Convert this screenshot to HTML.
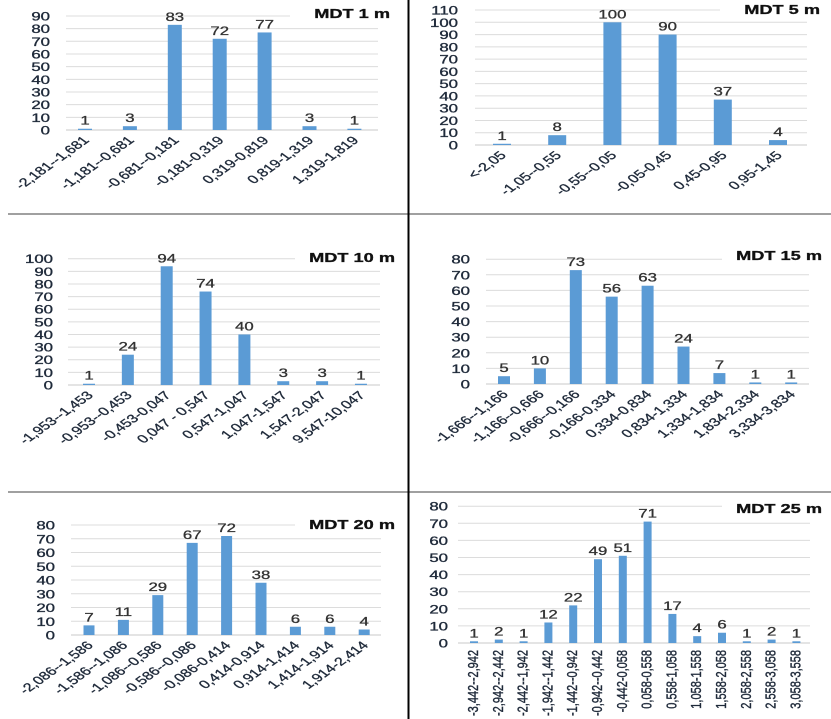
<!DOCTYPE html>
<html><head><meta charset="utf-8"><style>
html,body{margin:0;padding:0;background:#fff;}
svg{display:block;font-family:"Liberation Sans",Arial,sans-serif;}
</style></head><body>
<svg id="s" width="831" height="719" viewBox="0 0 831 719" xmlns="http://www.w3.org/2000/svg">
<line x1="8" y1="214" x2="831" y2="214" stroke="#808080" stroke-width="1.5"/>
<line x1="8" y1="492" x2="831" y2="492" stroke="#808080" stroke-width="1.5"/>
<line x1="408.5" y1="0" x2="408.5" y2="719" stroke="#000" stroke-width="2"/>
</svg>
<script>
var NS="http://www.w3.org/2000/svg",S=document.getElementById('s');
function el(t,a,txt){var e=document.createElementNS(NS,t);for(var k in a)e.setAttribute(k,a[k]);if(txt!==undefined)e.textContent=txt;S.appendChild(e);return e;}
var P=[
{t:"MDT 1 m",tx:390,ty:18,g0:66,g1:378,y0:130,max:90,step:12.67,lx:50,c0:85,sp:44.9,w:14,
 v:[1,3,83,72,77,3,1],l:["-2,181--1,681","-1,181--0,681","-0,681--0,181","-0,181-0,319","0,319-0,819","0,819-1,319","1,319-1,819"]},
{t:"MDT 5 m",tx:820,ty:14,g0:475,g1:807,y0:145,max:110,step:12.27,lx:458,c0:502,sp:55.2,w:18,
 v:[1,8,100,90,37,4],l:["<-2,05","-1,05--0,55","-0,55--0,05","-0,05-0,45","0,45-0,95","0,95-1,45"]},
{t:"MDT 10 m",tx:395,ty:262,g0:68,g1:380,y0:385,max:100,step:12.63,lx:53,c0:89,sp:38.85,w:12,
 v:[1,24,94,74,40,3,3,1],l:["-1,953--1,453","-0,953--0,453","-0,453-0,047","0,047 - 0,547","0,547-1,047","1,047-1,547","1,547-2,047","9,547-10,047"]},
{t:"MDT 15 m",tx:822,ty:260,g0:486,g1:809,y0:384,max:80,step:15.6,lx:470,c0:504,sp:35.9,w:12,
 v:[5,10,73,56,63,24,7,1,1],l:["-1,666--1,166","-1,166--0,666","-0,666--0,166","-0,166-0,334","0,334-0,834","0,834-1,334","1,334-1,834","1,834-2,334","3,334-3,834"]},
{t:"MDT 20 m",tx:395,ty:529,g0:71,g1:381,y0:635,max:80,step:13.75,lx:55,c0:89,sp:34.4,w:11,
 v:[7,11,29,67,72,38,6,6,4],l:["-2,086--1,586","-1,586--1,086","-1,086--0,586","-0,586--0,086","-0,086-0,414","0,414-0,914","0,914-1,414","1,414-1,914","1,914-2,414"]},
{t:"MDT 25 m",tx:822,ty:513,g0:458,g1:810,y0:643,max:80,step:17.1,lx:448,c0:474,sp:24.8,w:8,vert:1,
 v:[1,2,1,12,22,49,51,71,17,4,6,1,2,1],l:["-3,442--2,942","-2,942--2,442","-2,442--1,942","-1,942--1,442","-1,442--0,942","-0,942--0,442","-0,442-0,058","0,058-0,558","0,558-1,058","1,058-1,558","1,558-2,058","2,058-2,558","2,558-3,058","3,058-3,558"]}
];
P.forEach(function(p){
 for(var i=0;i<=p.max/10;i++){var y=p.y0-i*p.step;
  el('line',{x1:p.g0,x2:p.g1,y1:y,y2:y,stroke:i==0?'#c8c8c8':'#dcdcdc','stroke-width':1});
  el('text',{'text-anchor':'end','font-size':12,fill:'#1f2a3a',stroke:'#1f2a3a','stroke-width':0.35,transform:'translate('+p.lx+','+(y+4.5)+') scale(1.4,1)'},String(i*10));}
 el('rect',{x:p.tx-100,y:p.ty-12,width:102,height:16,fill:'#fff'});
 el('text',{'text-anchor':'end','font-size':13,'font-weight':'bold',fill:'#111',stroke:'#111','stroke-width':0.3,transform:'translate('+p.tx+','+p.ty+') scale(1.4,1)'},p.t);
 p.v.forEach(function(v,i){var cx=p.c0+i*p.sp,h=v/10*p.step;
  el('rect',{x:cx-p.w/2,y:p.y0-h,width:p.w,height:h,fill:'#5b9bd5'});
  el('text',{'text-anchor':'middle','font-size':12,fill:'#333',stroke:'#333','stroke-width':0.3,transform:'translate('+cx+','+(p.y0-h-4)+') scale(1.4,1)'},String(v));
  if(p.vert) el('text',{'text-anchor':'end','font-size':11,fill:'#1f2a3a',stroke:'#1f2a3a','stroke-width':0.3,transform:'translate('+(cx+4)+','+(p.y0+7)+') scale(1.3,1) rotate(-90)'},p.l[i]);
  else el('text',{'text-anchor':'end','font-size':11.5,fill:'#1f2a3a',stroke:'#1f2a3a','stroke-width':0.3,transform:'translate('+(cx+5)+','+(p.y0+11)+') scale(1.4,1) rotate(-45)'},p.l[i]);
 });
});
</script>
</body></html>
